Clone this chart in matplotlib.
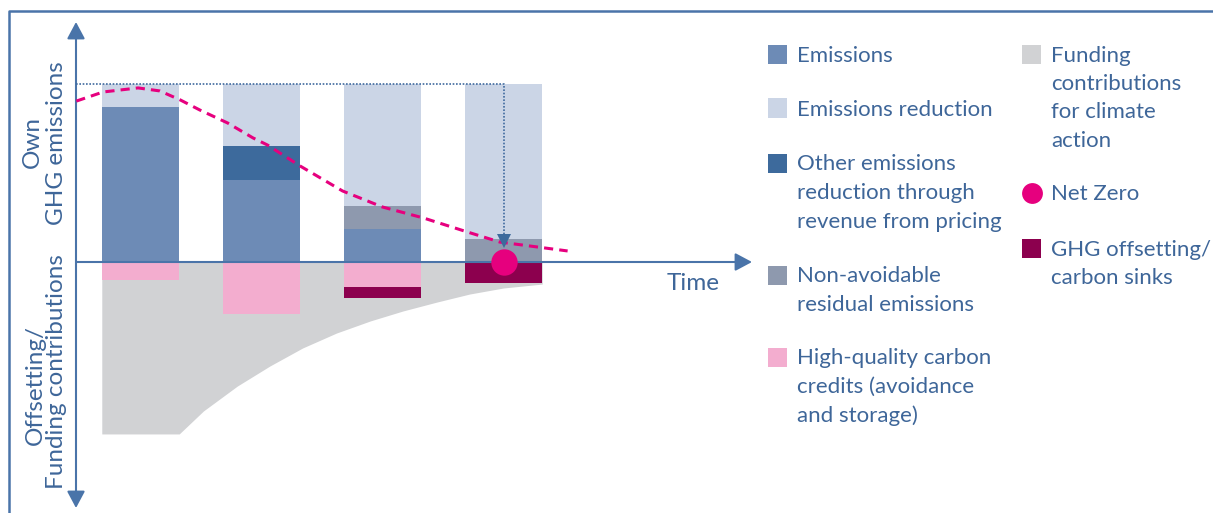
import matplotlib.pyplot as plt
from matplotlib.lines import Line2D
from matplotlib.patches import Rectangle

# stacked bar values per period, in emission units (reference level = 100)
periods = [1, 2, 3, 4]
reference_level = 100
emissions = [87, 46, 18.5, 0]
other_reduction = [0, 19, 0, 0]
residual = [0, 0, 13, 13]
credits = [10, 29, 14, 0]
offsetting = [0, 0, 6, 12]

# funding contributions envelope (below the time axis)
funding_t = [0.68, 1.32, 1.52, 1.80, 2.07, 2.34, 2.62, 2.90, 3.17, 3.45, 3.72, 4.00, 4.32]
funding_depth = [-96.6, -96.6, -83.7, -69.7, -58.4, -48.3, -39.9, -33.1, -27.5, -22.5, -18.0, -14.6, -12.4]

# emissions pathway (dashed)
path_t = [0.47, 0.69, 0.98, 1.16, 1.33, 1.49, 1.72, 1.93, 2.05, 2.32, 2.67, 3.00, 3.34, 3.70, 3.97, 4.53]
path_y = [90.4, 95.5, 97.8, 96.1, 91.0, 85.4, 78.1, 69.7, 65.7, 53.9, 39.9, 30.9, 24.7, 16.9, 11.2, 6.2]

net_zero_t, net_zero_y = 4, 0

c_em = '#6d8bb6'
c_red = '#cbd5e6'
c_other = '#3d6a9c'
c_resid = '#8e99ae'
c_credit = '#f3adcf'
c_fund = '#d1d2d4'
c_zero = '#e6007e'
c_offset = '#8c004e'
c_axis = '#4a74a9'
c_text = '#3e6699'

W, H = 1213, 513
T0_PX, PX_PER_T = 140.5, 121
BASE_PX, PX_PER_UNIT = 262, 1.78


def t_at(px):
    return (px - T0_PX) / PX_PER_T + 1


def y_at(py):
    return (BASE_PX - py) / PX_PER_UNIT


def fxy(x, y):
    return x / W, 1 - y / H


plt.rcParams['font.family'] = ['Lato', 'DejaVu Sans']

fig = plt.figure(figsize=(W / 100, H / 100), dpi=100)
ax = fig.add_axes([0, 0, 1, 1])
ax.axis('off')
ax.set_xlim(t_at(0), t_at(W))
ax.set_ylim(y_at(H), y_at(0))

# funding area
ax.fill_between(funding_t, 0, funding_depth, color=c_fund, lw=0, zorder=1)

# stacked bars
bw = 77 / PX_PER_T
kw = dict(width=bw, lw=0, zorder=2)
b_other = emissions
b_resid = [e + o for e, o in zip(emissions, other_reduction)]
b_red = [b + r for b, r in zip(b_resid, residual)]
ax.bar(periods, emissions, color=c_em, **kw)
ax.bar(periods, other_reduction, bottom=b_other, color=c_other, **kw)
ax.bar(periods, residual, bottom=b_resid, color=c_resid, **kw)
ax.bar(periods, [reference_level - b for b in b_red], bottom=b_red, color=c_red, **kw)
neg_credits = [-c for c in credits]
ax.bar(periods, neg_credits, color=c_credit, **kw)
ax.bar(periods, [-o for o in offsetting], bottom=neg_credits, color=c_offset, **kw)

# axes with arrow heads
x_axis = t_at(76)
ax.annotate('', xy=(t_at(752), 0), xytext=(x_axis, 0),
            arrowprops=dict(arrowstyle='-|>,head_length=0.6,head_width=0.32',
                            mutation_scale=17, lw=1.5, color=c_axis,
                            shrinkA=0, shrinkB=0), zorder=3)
ax.annotate('', xy=(x_axis, y_at(22)), xytext=(x_axis, y_at(508)),
            arrowprops=dict(arrowstyle='<|-|>,head_length=0.6,head_width=0.32',
                            mutation_scale=17, lw=1.5, color=c_axis,
                            shrinkA=0, shrinkB=0), zorder=3)

# dashed pathway
ax.plot(path_t, path_y, color=c_zero, lw=2.2, dashes=(3, 2), zorder=4)

# dotted reference level down to net zero
ax.plot([x_axis, net_zero_t, net_zero_t], [reference_level, reference_level, y_at(243)],
        color='#3f6a9e', lw=1.2, ls=(0, (1, 1)), zorder=4)
ax.plot([net_zero_t], [y_at(241)], marker='v', ms=10, color=c_other, mew=0, zorder=5)

# net zero point
ax.plot([net_zero_t], [net_zero_y], marker='o', ms=19, color=c_zero, mew=0, zorder=6)

# axis labels
lab = dict(color=c_text, fontsize=17.5, rotation=90, rotation_mode='anchor',
           ha='center', va='baseline', transform=fig.transFigure)
fig.text(*fxy(39, 142), 'Own', **lab)
fig.text(*fxy(63, 143), 'GHG emissions', **lab)
fig.text(*fxy(42, 385), 'Offsetting/', **lab)
fig.text(*fxy(63, 372), 'Funding contributions', **lab)
fig.text(*fxy(667, 290), 'Time', color=c_text, fontsize=17.5, ha='left', va='baseline')

# frame
fig.add_artist(Line2D([9 / W, 9 / W, 1], [0, 1 - 11 / H, 1 - 11 / H],
                      transform=fig.transFigure, color=c_axis, lw=1.8))

# legend
legend_left = [
    (c_em, ['Emissions'], 54),
    (c_red, ['Emissions reduction'], 108),
    (c_other, ['Other emissions', 'reduction through', 'revenue from pricing'], 163),
    (c_resid, ['Non-avoidable', 'residual emissions'], 275),
    (c_credit, ['High-quality carbon', 'credits (avoidance', 'and storage)'], 357),
]
legend_right = [
    (c_fund, ['Funding', 'contributions', 'for climate', 'action'], 54),
    (None, ['Net Zero'], 193),
    (c_offset, ['GHG offsetting/', 'carbon sinks'], 248),
]
sq = 19
line_gap = 28.5
for col_x, items in [(768, legend_left), (1022, legend_right)]:
    for color, lines, yc in items:
        if color is None:
            fig.add_artist(Line2D([(col_x + sq / 2) / W], [1 - yc / H], marker='o', ms=15,
                                  color=c_zero, mew=0, transform=fig.transFigure))
        else:
            fig.add_artist(Rectangle(fxy(col_x, yc + sq / 2), sq / W, sq / H, color=color,
                                     lw=0, transform=fig.transFigure))
        for i, txt in enumerate(lines):
            fig.text(*fxy(col_x + 29, yc + 7.5 + i * line_gap), txt, color=c_text,
                     fontsize=16, ha='left', va='baseline')

fig.savefig('out.png', dpi=100)
